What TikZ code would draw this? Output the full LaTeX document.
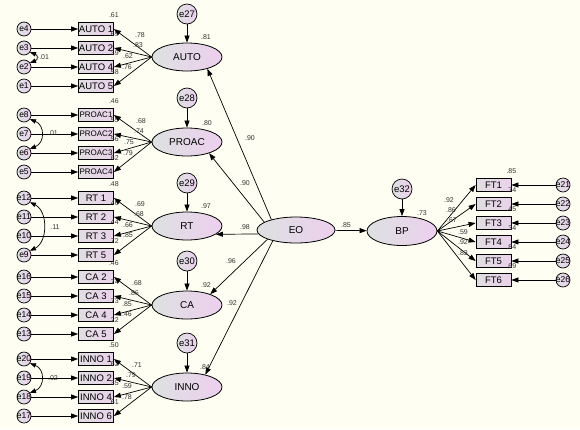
\documentclass[tikz,border=0pt]{standalone}
\usepackage{fontspec}
\setmainfont{Liberation Sans}
\usetikzlibrary{arrows.meta,shapes.geometric}
\definecolor{bgc}{HTML}{FEFEF2}
\definecolor{latL}{HTML}{DDE1E1}
\definecolor{latR}{HTML}{EDCFEE}
\definecolor{obsL}{HTML}{E2DDE2}
\definecolor{obsR}{HTML}{E9D2EA}
\definecolor{numc}{HTML}{333333}
\tikzset{
 latent/.style={ellipse, draw=black, line width=0.8pt, left color=latL, right color=latR, minimum width=70pt, minimum height=28pt, inner sep=0pt, font=\fontsize{10}{12}\selectfont},
 obs/.style={rectangle, draw=black, line width=0.8pt, left color=obsL, right color=obsR, minimum width=35pt, minimum height=13pt, inner sep=0pt, font=\fontsize{9.5}{11}\selectfont},
 err/.style={circle, draw=black, line width=0.7pt, left color=latL, right color=latR, minimum size=14pt, inner sep=0pt, font=\fontsize{8.5}{10}\selectfont},
 bigerr/.style={err, minimum size=20pt, font=\fontsize{9.5}{11}\selectfont},
 num/.style={inner sep=0pt, text=numc, font=\fontsize{7}{8}\selectfont},
 arr/.style={-{Triangle[length=7pt,width=5pt]}, line width=0.7pt},
 cov/.style={{Triangle[length=6pt,width=4.5pt]}-{Triangle[length=6pt,width=4.5pt]}, line width=0.7pt},
}
\newcommand{\smallobs}[1]{{\fontsize{8}{10}\selectfont #1}}
\begin{document}
\begin{tikzpicture}[x=1pt,y=-1pt]
\fill[bgc] (0,0) rectangle (580,429);
\useasboundingbox (0,0) rectangle (580,429);

% left indicators
\foreach \en/\bn/\txt/\y/\rsq in {
 e4/A1/AUTO 1/29/.61, e3/A2/AUTO 2/48/.69, e2/A4/AUTO 4/67/.39, e1/A5/AUTO 5/86/.58,
 e8/P1/\smallobs{PROAC1}/115/.46, e7/P2/\smallobs{PROAC2}/134/.55, e6/P3/\smallobs{PROAC3}/153/.56, e5/P4/\smallobs{PROAC4}/172/.62,
 e12/R1/RT 1/198/.48, e11/R2/RT 2/217/.46, e10/R3/RT 3/236/.44, e9/R5/RT 5/255/.72,
 e16/C2/CA 2/277/.46, e15/C3/CA 3/296/.74, e14/C4/CA 4/315/.73, e13/C5/CA 5/334/.22,
 e20/I1/INNO 1/359/.50, e19/I2/INNO 2/378/.62, e18/I4/INNO 4/397/.35, e17/I6/INNO 6/416/.61}
{
 \node[err] (\en) at (24,\y) {\makebox[0pt]{\en}};
 \node[obs] (\bn) at (96,\y) {\makebox[0pt]{\txt}};
 \node[num] (r\bn) at ([shift={(0,-7)}]\bn.north east) {\rsq};
 \draw[arr] (\en) -- (\bn);
}

% covariances
\draw[cov] (e3.-35) .. controls +(8,3) and +(8,-3) .. (e2.35);
\node[num] (c1) at (43,57) {-.01};
\draw[cov] (e8.-35) .. controls +(15,6) and +(15,-6) .. (e6.35);
\node[num] (c2) at (53,133) {.01};
\draw[cov] (e12.-35) .. controls +(18,9) and +(18,-9) .. (e9.35);
\node[num] (c3) at (55,227) {.11};
\draw[cov] (e20.-35) .. controls +(15,6) and +(15,-6) .. (e18.35);
\node[num] (c4) at (53,378) {.02};

% latent variables
\node[latent] (AUTO) at (187,57) {AUTO};
\node[latent] (PROAC) at (187,142) {PROAC};
\node[latent] (RT) at (187,226) {RT};
\node[latent] (CA) at (187,305) {CA};
\node[latent] (INNO) at (187,387) {INNO};
\node[latent, minimum width=78pt, minimum height=26pt] (EO) at (296,230) {EO};
\node[latent, minimum height=29pt] (BP) at (402,231) {BP};

% residuals of latents
\node[bigerr] (e27) at (187,14) {e27};
\node[bigerr] (e28) at (187,98) {e28};
\node[bigerr] (e29) at (187,183) {e29};
\node[bigerr] (e30) at (187,261) {e30};
\node[bigerr] (e31) at (187,343) {e31};
\node[bigerr] (e32) at (402,189) {e32};
\foreach \a/\b in {e27/AUTO,e28/PROAC,e29/RT,e30/CA,e31/INNO,e32/BP}
 \draw[arr] (\a) -- (\b);

% loadings left
\foreach \b in {A1,A2,A4,A5} \draw[arr] (AUTO.west) -- (\b.east);
\foreach \b in {P1,P2,P3,P4} \draw[arr] (PROAC.west) -- (\b.east);
\foreach \b in {R1,R2,R3,R5} \draw[arr] (RT.west) -- (\b.east);
\foreach \b in {C2,C3,C4,C5} \draw[arr] (CA.west) -- (\b.east);
\foreach \b in {I1,I2,I4,I6} \draw[arr] (INNO.west) -- (\b.east);

\node[num] (lA1) at (140,35) {.78};
\node[num] (lA2) at (138,45) {.83};
\node[num] (lA4) at (128,56) {.62};
\node[num] (lA5) at (127,67) {.76};
\node[num] (lP1) at (141,121) {.68};
\node[num] (lP2) at (139,131) {.74};
\node[num] (lP3) at (129,142) {.75};
\node[num] (lP4) at (128,153) {.79};
\node[num] (lR1) at (140,204) {.69};
\node[num] (lR2) at (139,214) {.68};
\node[num] (lR3) at (128,225) {.66};
\node[num] (lR5) at (128,235) {.85};
\node[num] (lC2) at (137,283) {.68};
\node[num] (lC3) at (134,293) {.86};
\node[num] (lC4) at (127,304) {.85};
\node[num] (lC5) at (127,314) {.46};
\node[num] (lI1) at (137,365) {.71};
\node[num] (lI2) at (131,375) {.79};
\node[num] (lI4) at (127,386) {.59};
\node[num] (lI6) at (127,397) {.78};

% structural paths
\draw[arr] (EO.157) -- (AUTO.-30);
\draw[arr] (EO.166) -- (PROAC.-27);
\draw[arr] (EO.186) -- (RT.-16);
\draw[arr] (EO.198) -- (CA.25);
\draw[arr] (EO.205) -- (INNO.34);
\draw[arr] (EO) -- (BP);

\node[num] (s1) at (250,138) {.90};
\node[num] (s2) at (245,183) {.90};
\node[num] (s3) at (245,227) {.98};
\node[num] (s4) at (231,261) {.96};
\node[num] (s5) at (232,303) {.92};
\node[num] (s6) at (346,225) {.85};

\node[num] (rAUTO) at (206,37) {.81};
\node[num] (rPROAC) at (207,123) {.80};
\node[num] (rRT) at (206,206) {.97};
\node[num] (rCA) at (206,285) {.92};
\node[num] (rINNO) at (205,367) {.84};
\node[num] (rBP) at (422,213) {.73};

% right indicators
\foreach \en/\bn/\y/\rsq in {e21/FT1/185/.85, e22/FT2/204/.74, e23/FT3/223/.45, e24/FT4/242/.34, e25/FT5/261/.84, e26/FT6/280/.69}
{
 \node[obs] (\bn) at (493.5,\y) {\bn};
 \node[err] (\en) at (563,\y) {\makebox[0pt]{\en}};
 \node[num] (r\bn) at ([shift={(0,-7)}]\bn.north east) {\rsq};
 \draw[arr] (\en) -- (\bn);
 \draw[arr] (BP.east) -- (\bn.west);
}
\node[num] (lF1) at (449,200) {.92};
\node[num] (lF2) at (451,210) {.86};
\node[num] (lF3) at (452,220) {.67};
\node[num] (lF4) at (463,232) {.59};
\node[num] (lF5) at (463,242) {.92};
\node[num] (lF6) at (463,253) {.83};
\end{tikzpicture}
\end{document}
